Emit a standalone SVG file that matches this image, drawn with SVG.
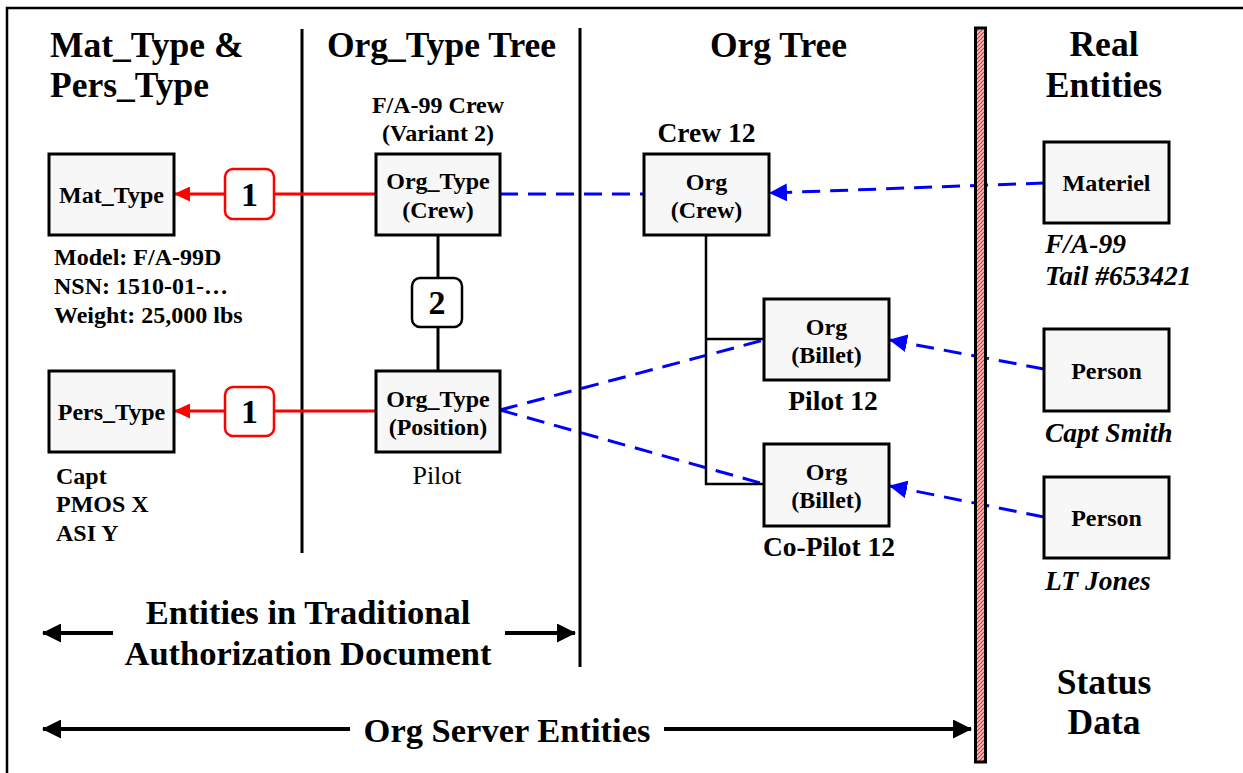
<svg xmlns="http://www.w3.org/2000/svg" width="1243" height="773" viewBox="0 0 1243 773">
<style>
text{font-family:"Liberation Serif","Times New Roman",serif;font-weight:bold;fill:#000}
.h{font-size:35.5px}
.b{font-size:24px;text-anchor:middle}
.l{font-size:24px}
.lc{font-size:27.5px;text-anchor:middle}
.it{font-size:27.5px;font-style:italic}
.bt{font-size:34.5px;text-anchor:middle}
.box{fill:#f7f7f7;stroke:#000;stroke-width:3}
.div{stroke:#000;stroke-width:3}
.red{stroke:#ff0000;stroke-width:3;fill:none}
.blue{stroke:#0000ff;stroke-width:3;fill:none;stroke-dasharray:18 10}
.tree{stroke:#000;stroke-width:2.5;fill:none}
.blk{stroke:#000;stroke-width:4;fill:none}
.badge-r{fill:#fff;stroke:#ff0000;stroke-width:2.5}
.badge-k{fill:#fff;stroke:#000;stroke-width:2.5}
.num{font-size:34px;text-anchor:middle}
</style>
<defs>
<pattern id="hatch" width="4" height="4" patternUnits="userSpaceOnUse">
<rect width="4" height="4" fill="#f9c0c0"/>
<path d="M0,4 L4,0 M-1,1 L1,-1 M3,5 L5,3" stroke="#e03535" stroke-width="1.2"/>
</pattern>
<marker id="ar" viewBox="0 0 16 15" markerWidth="16" markerHeight="15" refX="15" refY="7.5" orient="auto" markerUnits="userSpaceOnUse">
<path d="M0,0 L16,7.5 L0,15 z" fill="#ff0000"/>
</marker>
<marker id="ab" viewBox="0 0 18 18" markerWidth="18" markerHeight="18" refX="17" refY="9" orient="auto" markerUnits="userSpaceOnUse">
<path d="M0,0 L18,9 L0,18 z" fill="#0000ff"/>
</marker>
<marker id="ak" viewBox="0 0 19 19" markerWidth="19" markerHeight="19" refX="18" refY="9.5" orient="auto" markerUnits="userSpaceOnUse">
<path d="M0,0 L19,9.5 L0,19 z" fill="#000"/>
</marker>
</defs>
<rect width="1243" height="773" fill="#fff"/>
<!-- frame -->
<path d="M7,773 L7,8 L1243,8" fill="none" stroke="#000" stroke-width="2.5"/>

<!-- column headers -->
<g id="headers">
<text class="h" x="50" y="57">Mat_Type &amp;</text>
<text class="h" x="50" y="97">Pers_Type</text>
<text class="h" x="441.5" y="57" text-anchor="middle">Org_Type Tree</text>
<text class="h" x="778.5" y="57" text-anchor="middle">Org Tree</text>
<text class="h" x="1104" y="56" text-anchor="middle">Real</text>
<text class="h" x="1104" y="97" text-anchor="middle">Entities</text>
<text class="h" x="1104" y="694" text-anchor="middle">Status</text>
<text class="h" x="1104" y="734" text-anchor="middle">Data</text>
</g>

<!-- dividers -->
<g id="dividers">
<line class="div" x1="302" y1="29" x2="302" y2="553"/>
<line class="div" x1="580" y1="28" x2="580" y2="667"/>
</g>

<!-- connectors -->
<g id="connectors">
<line class="red" x1="376" y1="194" x2="175" y2="194" marker-end="url(#ar)"/>
<line class="red" x1="376" y1="411" x2="175" y2="411" marker-end="url(#ar)"/>
<line class="div" x1="438" y1="235" x2="438" y2="371"/>
<line class="blue" x1="500" y1="194" x2="644" y2="194"/>
<line class="blue" x1="1044" y1="183" x2="770" y2="193" marker-end="url(#ab)"/>
<line class="blue" x1="1044" y1="369" x2="890" y2="340" marker-end="url(#ab)"/>
<line class="blue" x1="1044" y1="517" x2="890" y2="486" marker-end="url(#ab)"/>
<line class="blue" x1="500" y1="410" x2="764" y2="340"/>
<line class="blue" x1="500" y1="410" x2="764" y2="484"/>
<path class="tree" d="M706,235 L706,484 L764,484 M706,339 L764,339"/>
<rect class="badge-r" x="225" y="169" width="49" height="50" rx="8"/>
<text class="num" x="249.5" y="206">1</text>
<rect class="badge-r" x="225" y="387" width="49" height="49" rx="8"/>
<text class="num" x="249.5" y="423">1</text>
<rect class="badge-k" x="412" y="278" width="50" height="49" rx="8"/>
<text class="num" x="437" y="314">2</text>
</g>

<!-- status bar -->
<rect x="975.5" y="28" width="10" height="734" fill="url(#hatch)" stroke="#000" stroke-width="3"/>

<!-- nodes -->
<g id="mat_type">
<rect class="box" x="49" y="154" width="125" height="81"/>
<text class="b" x="111.5" y="203">Mat_Type</text>
<text class="l" x="54" y="265">Model: F/A-99D</text>
<text class="l" x="54" y="294">NSN: 1510-01-…</text>
<text class="l" x="54" y="323">Weight: 25,000 lbs</text>
</g>
<g id="pers_type">
<rect class="box" x="49" y="371" width="125" height="81"/>
<text class="b" x="111.5" y="420">Pers_Type</text>
<text class="l" x="56" y="484">Capt</text>
<text class="l" x="56" y="512">PMOS X</text>
<text class="l" x="56" y="541">ASI Y</text>
</g>
<g id="orgtype_crew">
<text class="b" x="438" y="113">F/A-99 Crew</text>
<text class="b" x="438" y="141">(Variant 2)</text>
<rect class="box" x="376" y="154" width="124" height="81"/>
<text class="b" x="438" y="189">Org_Type</text>
<text class="b" x="438" y="218">(Crew)</text>
</g>
<g id="orgtype_position">
<rect class="box" x="376" y="371" width="124" height="81"/>
<text class="b" x="438" y="407">Org_Type</text>
<text class="b" x="438" y="435">(Position)</text>
<text x="437" y="484" style="font-size:26px;font-weight:normal;text-anchor:middle">Pilot</text>
</g>
<g id="org_crew">
<text class="lc" x="706.5" y="142">Crew 12</text>
<rect class="box" x="644" y="154" width="125" height="81"/>
<text class="b" x="706.5" y="190">Org</text>
<text class="b" x="706.5" y="218">(Crew)</text>
</g>
<g id="org_billet_pilot">
<rect class="box" x="764" y="299" width="125" height="81"/>
<text class="b" x="826.5" y="335">Org</text>
<text class="b" x="826.5" y="363">(Billet)</text>
<text class="lc" x="833" y="410">Pilot 12</text>
</g>
<g id="org_billet_copilot">
<rect class="box" x="764" y="444" width="125" height="82"/>
<text class="b" x="826.5" y="480">Org</text>
<text class="b" x="826.5" y="508">(Billet)</text>
<text class="lc" x="829" y="556">Co-Pilot 12</text>
</g>
<g id="materiel">
<rect class="box" x="1044" y="142" width="125" height="81"/>
<text class="b" x="1106.5" y="191">Materiel</text>
<text class="it" x="1045" y="253">F/A-99</text>
<text class="it" x="1045" y="285">Tail #653421</text>
</g>
<g id="person_smith">
<rect class="box" x="1044" y="329" width="125" height="82"/>
<text class="b" x="1106.5" y="379">Person</text>
<text class="it" x="1045" y="442">Capt Smith</text>
</g>
<g id="person_jones">
<rect class="box" x="1044" y="477" width="125" height="81"/>
<text class="b" x="1106.5" y="526">Person</text>
<text class="it" x="1045" y="590">LT Jones</text>
</g>

<!-- bottom scope arrows -->
<g id="scope">
<line class="blk" x1="113" y1="633" x2="43" y2="633" marker-end="url(#ak)"/>
<line class="blk" x1="505" y1="633" x2="575" y2="633" marker-end="url(#ak)"/>
<text class="bt" x="308" y="624">Entities in Traditional</text>
<text class="bt" x="308" y="665">Authorization Document</text>
<line class="blk" x1="350" y1="729" x2="43" y2="729" marker-end="url(#ak)"/>
<line class="blk" x1="664" y1="729" x2="971" y2="729" marker-end="url(#ak)"/>
<text class="bt" x="507" y="742">Org Server Entities</text>
</g>
</svg>
